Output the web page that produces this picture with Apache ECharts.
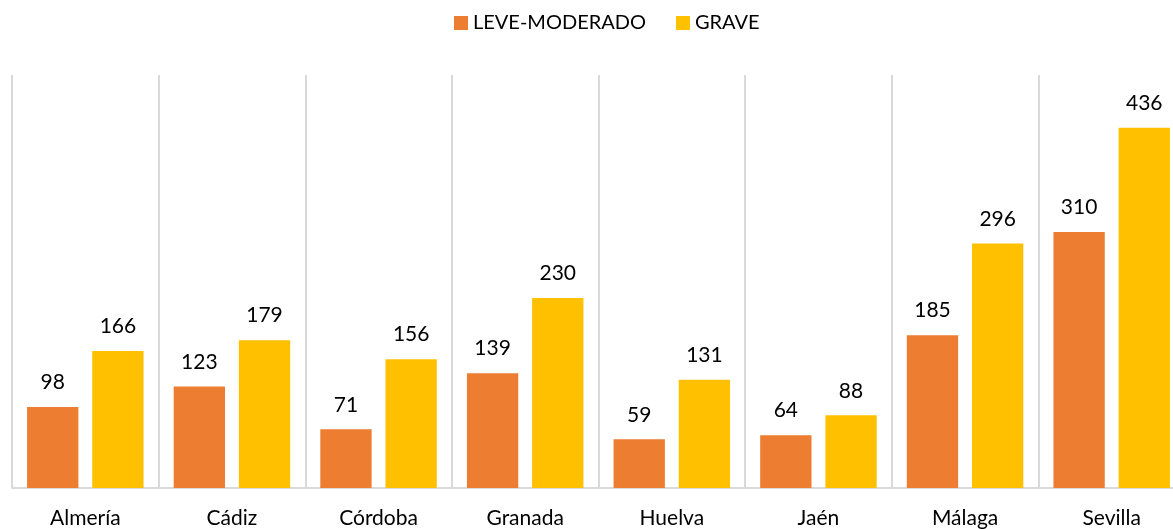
<!DOCTYPE html>
<html>
<head>
<meta charset="utf-8">
<script src="https://cdn.jsdelivr.net/npm/echarts@6/dist/echarts.min.js"></script>
<style>
  html, body { margin: 0; padding: 0; background: #fff; }
  #main { width: 1173px; height: 529px; }
</style>
</head>
<body>
<div id="main"></div>
<script>
var provincias = ['Almería', 'Cádiz', 'Córdoba', 'Granada', 'Huelva', 'Jaén', 'Málaga', 'Sevilla'];
var leveModerado = [98, 123, 71, 139, 59, 64, 185, 310];
var grave = [166, 179, 156, 230, 131, 88, 296, 436];

var chart = echarts.init(document.getElementById('main'));

var labelStyle = {
  show: true,
  position: 'top',
  distance: 14,
  color: '#000',
  fontSize: 21,
  fontFamily: 'Lato'
};

var option = {
  backgroundColor: '#ffffff',
  textStyle: { fontFamily: 'Lato' },
  legend: {
    top: 8,
    left: 449,
    itemWidth: 14,
    itemHeight: 14,
    itemGap: 30,
    icon: 'rect',
    textStyle: { fontSize: 20, color: '#000', fontFamily: 'Lato' },
    data: ['LEVE-MODERADO', 'GRAVE']
  },
  grid: {
    left: 12,
    right: -12,
    top: 75,
    bottom: 41,
    outerBoundsMode: 'none'
  },
  xAxis: {
    type: 'category',
    data: provincias,
    axisTick: { show: false },
    axisLine: { lineStyle: { color: '#d9d9d9', width: 2 } },
    splitLine: { show: true, lineStyle: { color: '#d9d9d9', width: 2 } },
    axisLabel: { color: '#000', fontSize: 21, margin: 20, fontFamily: 'Lato' }
  },
  yAxis: {
    type: 'value',
    min: 0,
    max: 500,
    show: false,
    splitLine: { show: false }
  },
  series: [
    {
      name: 'LEVE-MODERADO',
      type: 'bar',
      barWidth: '35%',
      barGap: '27%',
      itemStyle: { color: '#ed7d31' },
      label: labelStyle,
      data: leveModerado
    },
    {
      name: 'GRAVE',
      type: 'bar',
      barWidth: '35%',
      itemStyle: { color: '#ffc000' },
      label: labelStyle,
      data: grave
    }
  ]
};

chart.setOption(option);
</script>
</body>
</html>
